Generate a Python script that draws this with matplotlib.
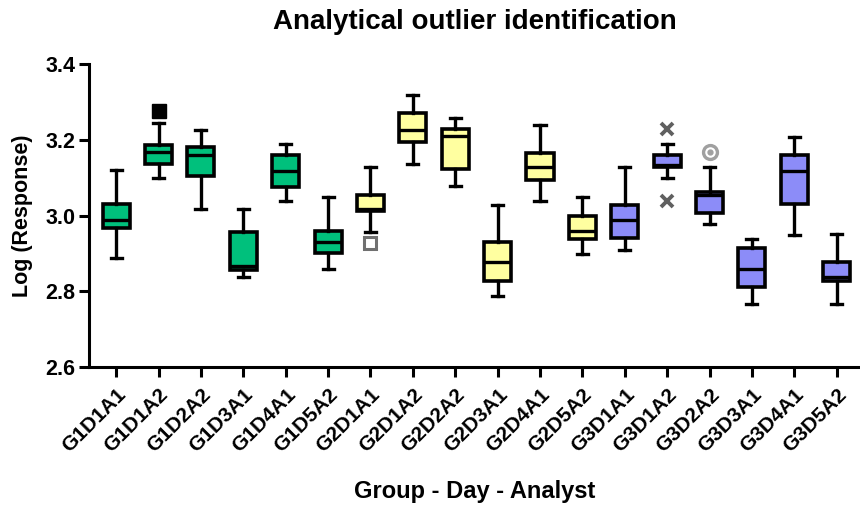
import matplotlib.pyplot as plt
import numpy as np

plt.rcParams['font.family'] = ['Liberation Sans', 'DejaVu Sans']
plt.rcParams['font.weight'] = 'bold'

# ---- data ----
groups = ['G1D1A1', 'G1D1A2', 'G1D2A2', 'G1D3A1', 'G1D4A1', 'G1D5A2',
          'G2D1A1', 'G2D1A2', 'G2D2A2', 'G2D3A1', 'G2D4A1', 'G2D5A2',
          'G3D1A1', 'G3D1A2', 'G3D2A2', 'G3D3A1', 'G3D4A1', 'G3D5A2']
whis_lo = [2.889, 3.099, 3.018, 2.837, 3.038, 2.858,
           2.957, 3.137, 3.078, 2.788, 3.038, 2.899,
           2.908, 3.099, 2.979, 2.767, 2.949, 2.767]
q1 = [2.966, 3.136, 3.105, 2.857, 3.076, 2.902,
      3.011, 3.193, 3.122, 2.827, 3.093, 2.937,
      2.941, 3.127, 3.006, 2.811, 3.031, 2.826]
med = [2.989, 3.167, 3.159, 2.868, 3.119, 2.930,
       3.018, 3.227, 3.210, 2.878, 3.129, 2.958,
       2.989, 3.134, 3.054, 2.858, 3.118, 2.839]
q3 = [3.030, 3.186, 3.180, 2.956, 3.160, 2.960,
      3.054, 3.270, 3.228, 2.930, 3.164, 3.000,
      3.029, 3.159, 3.063, 2.914, 3.159, 2.878]
whis_hi = [3.120, 3.245, 3.227, 3.018, 3.189, 3.049,
           3.129, 3.319, 3.258, 3.028, 3.238, 3.048,
           3.128, 3.188, 3.128, 2.937, 3.208, 2.950]

# outliers: (box index, value)
out_filled_sq = [(1, 3.276)]
out_open_sq = [(6, 2.928)]
out_cross = [(13, 3.228), (13, 3.038)]
out_dot_circle = [(14, 3.168)]

group_colors = ['#00C07C', '#FFFFA0', '#8C8CF8']

stats = []
for i in range(len(groups)):
    stats.append({'label': groups[i], 'whislo': whis_lo[i], 'q1': q1[i],
                  'med': med[i], 'q3': q3[i], 'whishi': whis_hi[i], 'fliers': []})

fig = plt.figure(figsize=(8.6, 5.05), dpi=100)
ax = fig.add_axes([0.1035, 0.2733, 0.8965, 0.5997])

pos = np.arange(len(groups))
bp = ax.bxp(stats, positions=pos, widths=0.64, patch_artist=True,
            capwidths=0.26,
            boxprops=dict(linewidth=2.6, edgecolor='black'),
            whiskerprops=dict(linewidth=2.4, color='black'),
            capprops=dict(linewidth=2.4, color='black'),
            medianprops=dict(linewidth=2.4, color='black'))
for i, box in enumerate(bp['boxes']):
    box.set_facecolor(group_colors[i // 6])

def xs(lst):
    return [p[0] for p in lst]

def ys(lst):
    return [p[1] for p in lst]

ax.plot(xs(out_filled_sq), ys(out_filled_sq), 's', color='black', ms=10, zorder=5)
ax.plot(xs(out_open_sq), ys(out_open_sq), 's', mfc='white', mec='#707070',
        mew=2.2, ms=9, zorder=5)
ax.plot(xs(out_cross), ys(out_cross), 'x', color='#606060', mew=2.8, ms=9, zorder=5)
ax.plot(xs(out_dot_circle), ys(out_dot_circle), 'o', mfc='white', mec='#A0A0A0',
        mew=2.4, ms=10, zorder=5)
ax.plot(xs(out_dot_circle), ys(out_dot_circle), 'o', color='#A0A0A0', ms=3.5, zorder=6)

ax.set_xlim(-0.64, 17.55)
ax.set_ylim(2.6, 3.4)
ax.set_yticks([2.6, 2.8, 3.0, 3.2, 3.4])
ax.set_yticklabels(['2.6', '2.8', '3.0', '3.2', '3.4'], fontsize=15.5, fontweight='bold')
ax.set_xticks(pos)
ax.set_xticklabels(groups, rotation=45, ha='right', rotation_mode='anchor',
                   fontsize=15, fontweight='bold')

for s in ['top', 'right']:
    ax.spines[s].set_visible(False)
for s in ['left', 'bottom']:
    ax.spines[s].set_linewidth(2.2)
ax.tick_params(axis='both', length=7, width=2.2, direction='out')
ax.tick_params(axis='y', pad=3)
ax.tick_params(axis='x', pad=6)

ax.set_title('Analytical outlier identification', fontsize=20, fontweight='bold', pad=25)
ax.set_xlabel('Group - Day - Analyst', fontsize=17, fontweight='bold', labelpad=17)
ax.set_ylabel('Log (Response)', fontsize=15.5, fontweight='bold', labelpad=9)

fig.savefig('out.png', dpi=100)
